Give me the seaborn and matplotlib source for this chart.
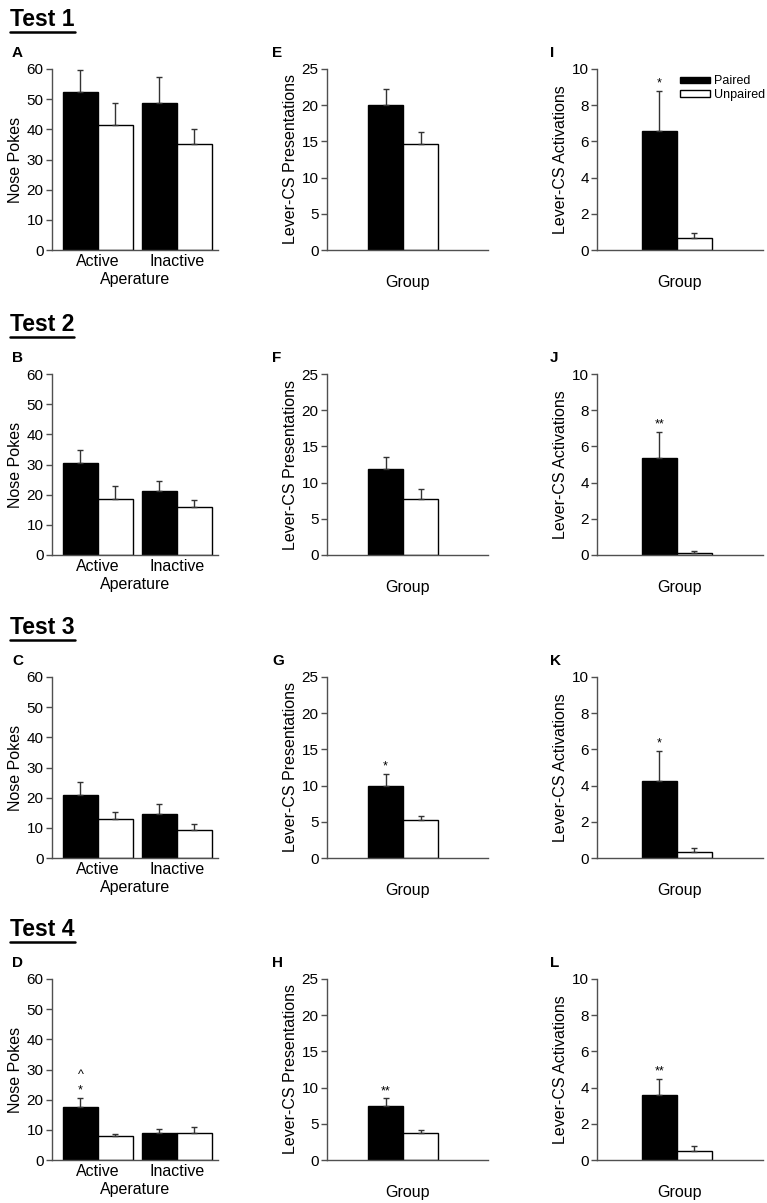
import matplotlib
matplotlib.use("Agg")
import matplotlib.pyplot as plt
from matplotlib.container import BarContainer
from matplotlib.lines import Line2D
import pandas as pd
import seaborn as sns

# ---- data ----
tests = ["Test 1", "Test 2", "Test 3", "Test 4"]
groups = ["Paired", "Unpaired"]
apertures = ["Active", "Inactive"]
letters_pokes = ["A", "B", "C", "D"]
letters_pres = ["E", "F", "G", "H"]
letters_act = ["I", "J", "K", "L"]

# nose pokes per test: [Active, Inactive]
pokes_paired = [[52.5, 48.6], [30.5, 21.1], [20.9, 14.6], [17.6, 8.9]]
pokes_paired_sem = [[7.2, 8.7], [4.3, 3.5], [4.2, 3.2], [3.1, 1.4]]
pokes_unpaired = [[41.4, 35.2], [18.6, 15.9], [12.9, 9.3], [7.8, 9.0]]
pokes_unpaired_sem = [[7.4, 4.9], [4.2, 2.3], [2.4, 1.9], [0.9, 2.0]]
pokes_sig = ["", "", "", "*"]          # above Active / Paired
pokes_sig2 = ["", "", "", "^"]

# lever-CS presentations per test: [Paired, Unpaired]
pres_mean = [[20.0, 14.6], [11.9, 7.7], [9.9, 5.3], [7.4, 3.7]]
pres_sem = [[2.3, 1.7], [1.7, 1.4], [1.7, 0.5], [1.1, 0.4]]
pres_sig = ["", "", "*", "**"]

# lever-CS activations per test: [Paired, Unpaired]
act_mean = [[6.56, 0.67], [5.38, 0.09], [4.28, 0.33], [3.61, 0.48]]
act_sem = [[2.21, 0.25], [1.40, 0.11], [1.65, 0.24], [0.87, 0.32]]
act_sig = ["*", "**", "*", "**"]

W, H = 767, 1203
row_tops = [69, 374, 677, 979]
ax_h = 181
SPINE = "#505050"

sns.set_style("ticks")
plt.rcParams["font.family"] = ["Liberation Sans", "DejaVu Sans"]
plt.rcParams["text.color"] = "black"
plt.rcParams["axes.labelcolor"] = "black"
plt.rcParams["xtick.labelcolor"] = "black"
plt.rcParams["ytick.labelcolor"] = "black"

fig = plt.figure(figsize=(W / 100, H / 100), dpi=100)


def px_axes(left, top, width, height):
    return fig.add_axes([left / W, 1 - (top + height) / H, width / W, height / H])


def style_axes(ax, ylim, yticks, ylabel):
    ax.set_ylim(*ylim)
    ax.set_yticks(yticks)
    sns.despine(ax=ax)
    for side in ["left", "bottom"]:
        ax.spines[side].set_color(SPINE)
        ax.spines[side].set_linewidth(1)
    ax.tick_params(axis="y", direction="out", length=4, width=1, color=SPINE,
                   labelsize=11, pad=2, labelcolor="black")
    ax.tick_params(axis="x", length=0, labelsize=11.5, pad=3, labelcolor="black")
    ax.set_ylabel(ylabel, fontsize=11.5, labelpad=2.5)


def add_errorbars(ax, sems, sig=None, sig2=None):
    # sems[group][category]
    bar_sets = [c for c in ax.containers if isinstance(c, BarContainer)]
    tops = {}
    for g, container in enumerate(bar_sets):
        for bar in container:
            xc = bar.get_x() + bar.get_width() / 2
            cat = int(round(xc))
            h = bar.get_height()
            e = sems[g][cat]
            ax.errorbar(xc, h, yerr=[[0], [e]], fmt="none", ecolor="#333333",
                        elinewidth=1, capsize=2.2, capthick=1, zorder=3)
            tops[(g, cat)] = (xc, h + e)
    if sig:
        xc, yt = tops[(0, 0)]
        ax.annotate(sig, (xc, yt), xytext=(0, 1), textcoords="offset points",
                    ha="center", va="bottom", fontsize=9)
    if sig2:
        xc, yt = tops[(0, 0)]
        ax.annotate(sig2, (xc, yt), xytext=(0, 12), textcoords="offset points",
                    ha="center", va="bottom", fontsize=9)
    return bar_sets


headers = []
for i, test in enumerate(tests):
    top = row_tops[i]

    # ---- nose pokes (Active / Inactive) ----
    ax = px_axes(52, top, 166, ax_h)
    df = pd.DataFrame({
        "aperture": apertures * 2,
        "group": [groups[0]] * 2 + [groups[1]] * 2,
        "pokes": pokes_paired[i] + pokes_unpaired[i],
    })
    sns.barplot(data=df, x="aperture", y="pokes", hue="group", order=apertures,
                hue_order=groups, palette=["black", "white"], saturation=1,
                edgecolor="black", linewidth=1, width=0.886, errorbar=None,
                legend=False, ax=ax)
    add_errorbars(ax, [pokes_paired_sem[i], pokes_unpaired_sem[i]],
                  pokes_sig[i], pokes_sig2[i])
    style_axes(ax, (0, 60), range(0, 61, 10), "Nose Pokes")
    ax.set_xlim(-0.582, 1.519)
    ax.set_xlabel("Aperature", fontsize=11.5, labelpad=2)
    fig.text(12 / W, 1 - (top - 16) / H, letters_pokes[i], fontsize=11,
             fontweight="bold", va="center")

    # ---- lever-CS presentations ----
    ax = px_axes(327, top, 161, ax_h)
    df = pd.DataFrame({"cat": ["Group"] * 2, "group": groups, "value": pres_mean[i]})
    sns.barplot(data=df, x="cat", y="value", hue="group", hue_order=groups,
                palette=["black", "white"], saturation=1, edgecolor="black",
                linewidth=1, width=0.8, errorbar=None, legend=False, ax=ax)
    add_errorbars(ax, [[pres_sem[i][0]], [pres_sem[i][1]]], pres_sig[i])
    style_axes(ax, (0, 25), range(0, 26, 5), "Lever-CS Presentations")
    ax.set_xlim(-0.869, 0.971)
    ax.set_xticks([])
    ax.set_xlabel("Group", fontsize=11.5, labelpad=18)
    fig.text(272 / W, 1 - (top - 16) / H, letters_pres[i], fontsize=11,
             fontweight="bold", va="center")

    # ---- lever-CS activations ----
    ax = px_axes(597, top, 166, ax_h)
    df = pd.DataFrame({"cat": ["Group"] * 2, "group": groups, "value": act_mean[i]})
    sns.barplot(data=df, x="cat", y="value", hue="group", hue_order=groups,
                palette=["black", "white"], saturation=1, edgecolor="black",
                linewidth=1, width=0.8, errorbar=None, legend=False, ax=ax)
    bar_sets = add_errorbars(ax, [[act_sem[i][0]], [act_sem[i][1]]], act_sig[i])
    style_axes(ax, (0, 10), range(0, 11, 2), "Lever-CS Activations")
    ax.set_xlim(-0.914, 0.983)
    ax.set_xticks([])
    ax.set_xlabel("Group", fontsize=11.5, labelpad=18)
    fig.text(550 / W, 1 - (top - 16) / H, letters_act[i], fontsize=11,
             fontweight="bold", va="center")
    if i == 0:
        ax.legend(handles=[bar_sets[0][0], bar_sets[1][0]], labels=groups,
                  loc="upper left", bbox_to_anchor=(0.5, 0.965), frameon=False,
                  fontsize=9, handlelength=2.4, handleheight=0.45,
                  handletextpad=0.35, labelspacing=0.15, borderpad=0,
                  borderaxespad=0)

    headers.append(fig.text(10 / W, 1 - (top - 43) / H, test, fontsize=16.5,
                            fontweight="bold", va="baseline"))

# underline the "Test N" headers
fig.canvas.draw()
renderer = fig.canvas.get_renderer()
for t in headers:
    bb = t.get_window_extent(renderer)
    y = (bb.y0 - 1) / H
    fig.add_artist(Line2D([bb.x0 / W, bb.x1 / W], [y, y], color="black", lw=1.8))

fig.savefig("out.png", dpi=100)
